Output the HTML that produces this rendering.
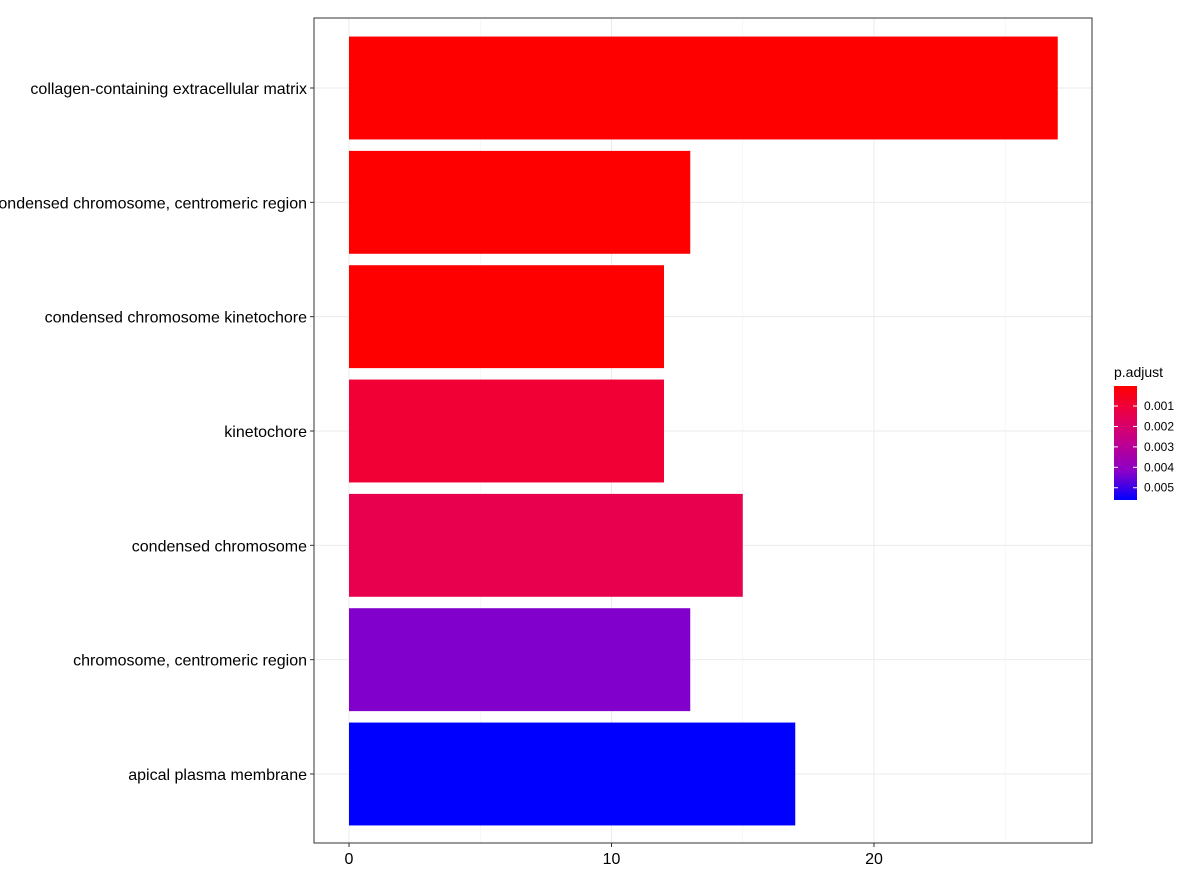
<!DOCTYPE html>
<html><head><meta charset="utf-8"><style>body{margin:0;background:#fff}svg{display:block;font-family:"Liberation Sans",Arial,sans-serif}</style></head>
<body>
<svg id="c" width="1185" height="873"></svg>
<script>
const categories=["collagen-containing extracellular matrix","condensed chromosome, centromeric region","condensed chromosome kinetochore","kinetochore","condensed chromosome","chromosome, centromeric region","apical plasma membrane"];
const counts=[27,13,12,12,15,13,17];
const pAdjust=[0.00002,0.00003,0.00004,0.00095,0.0014,0.0043,0.0056];
const xTicks=[0,10,20];
const legendTicks=[0.001,0.002,0.003,0.004,0.005];
const pMin=0.00002,pMax=0.0056;
const NS="http://www.w3.org/2000/svg",svg=document.getElementById('c');
function el(t,a,p){const e=document.createElementNS(NS,t);for(const k in a)e.setAttribute(k,a[k]);(p||svg).appendChild(e);return e;}
const L=314,R=1092,T=18,B=843;
const xs=v=>349+v*26.25;
const n=categories.length;
const step=(774-88)/(n-1);
const ys=i=>88+step*i;
const bh=step*0.9;
const stops=[[255,0,0],[232,0,79],[191,0,144],[138,0,200],[0,0,255]];
function col(p){const t=Math.max(0,Math.min(1,(p-pMin)/(pMax-pMin)))*(stops.length-1);const k=Math.min(stops.length-2,Math.floor(t)),f=t-k;const c=stops[k].map((v,j)=>Math.round(v+(stops[k+1][j]-v)*f));return `rgb(${c[0]},${c[1]},${c[2]})`;}
for(let v=0;v<=25;v+=5){const g=el('line',{x1:xs(v),x2:xs(v),y1:T,y2:B,stroke:v%10==0?'#ebebeb':'#f2f2f2','stroke-width':v%10==0?1:0.6});}
categories.forEach((c,i)=>{const g=el('line',{x1:L,x2:R,y1:ys(i),y2:ys(i),stroke:'#ebebeb'});});
categories.forEach((c,i)=>{
 const r=el('rect',{x:xs(0),y:ys(i)-bh/2,width:xs(counts[i])-xs(0),height:bh,fill:col(pAdjust[i])});
 
 const tk=el('line',{x1:L-4,x2:L,y1:ys(i),y2:ys(i),stroke:'#333'});
 const t=el('text',{x:L-7,y:ys(i)+6,'text-anchor':'end','font-size':16,fill:'#000'});t.textContent=c;
 
});
const fr=el('rect',{x:L,y:T,width:R-L,height:B-T,fill:'none',stroke:'#333','stroke-width':1});
xTicks.forEach(v=>{const tk=el('line',{x1:xs(v),x2:xs(v),y1:B,y2:B+4,stroke:'#333'});
 const t=el('text',{x:xs(v),y:B+21,'text-anchor':'middle','font-size':16,fill:'#000'});t.textContent=v;});
const lt=el('text',{x:1114,y:377,'font-size':14,fill:'#000'});lt.textContent='p.adjust';
const defs=el('defs',{});const gr=el('linearGradient',{id:'g',x1:0,y1:0,x2:0,y2:1},defs);
stops.forEach((s,k)=>el('stop',{offset:k/(stops.length-1),'stop-color':`rgb(${s[0]},${s[1]},${s[2]})`},gr));
const cb=el('rect',{x:1114,y:386,width:23,height:114,fill:'url(#g)'});
const ly=p=>386+(p-pMin)/(pMax-pMin)*114;
legendTicks.forEach(p=>{const y=ly(p);
 const a=el('line',{x1:1114,x2:1118,y1:y,y2:y,stroke:'#fff'});
 const b=el('line',{x1:1133,x2:1137,y1:y,y2:y,stroke:'#fff'});
 const t=el('text',{x:1144,y:y+4,'font-size':12,fill:'#000'});t.textContent=p.toFixed(3);});
</script>
</body></html>
